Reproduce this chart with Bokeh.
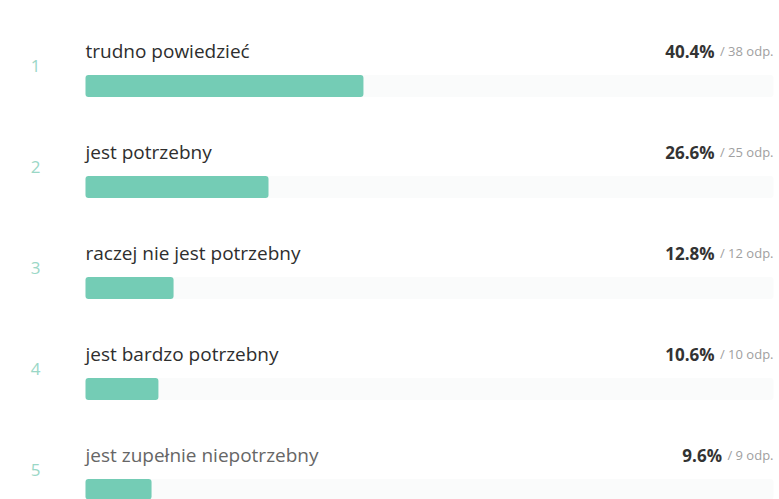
from bokeh.plotting import figure
from bokeh.models import ColumnDataSource, Range1d
from bokeh.core.properties import value
from bokeh.embed import file_html
from bokeh.resources import INLINE

# ---- data ----
ranks = ["1", "2", "3", "4", "5"]
labels = ["trudno powiedzieć", "jest potrzebny", "raczej nie jest potrzebny",
          "jest bardzo potrzebny", "jest zupełnie niepotrzebny"]
percents = [40.4, 26.6, 12.8, 10.6, 9.6]
counts = [38, 25, 12, 10, 9]

# ---- styling helpers ----
FONT = "Open Sans"
ODP_SIZE = 13
EM = {"0": 0.572, "1": 0.572, "2": 0.572, "3": 0.572, "4": 0.572, "5": 0.572,
      "6": 0.572, "7": 0.572, "8": 0.572, "9": 0.572, " ": 0.26, "/": 0.37,
      "o": 0.602, "d": 0.623, "p": 0.623, ".": 0.269}


def text_width(s, size):
    return sum(EM.get(c, 0.55) for c in s) * size


rows = list(range(len(labels)))
odp_texts = ["/ %d odp." % c for c in counts]
pct_texts = ["%.1f%%" % v for v in percents]
pct_offsets = [-(text_width(t, ODP_SIZE) + 5) for t in odp_texts]
label_colors = ["#2e2e2e", "#2e2e2e", "#2e2e2e", "#2e2e2e", "#666666"]

src = ColumnDataSource(dict(
    row=rows, rank=ranks, label=labels, pct=percents, full=[100] * len(rows),
    zero=[0] * len(rows), pct_text=pct_texts, odp=odp_texts,
    pct_off=pct_offsets, label_color=label_colors,
))

W, H = 779, 499
px_per_pct = 6.88
x0 = 85
pitch = 101
y0 = 85.5

p = figure(width=W, height=H, output_backend="svg", toolbar_location=None,
           title=None, min_border=0,
           x_range=Range1d(-x0 / px_per_pct, (W - x0) / px_per_pct),
           y_range=Range1d((H - y0) / pitch, -y0 / pitch))
p.xaxis.visible = False
p.yaxis.visible = False
p.grid.visible = False
p.outline_line_color = None
p.background_fill_color = "white"
p.border_fill_color = "white"

bar_h = 22 / pitch
TXT_OFF = -35

# track
p.hbar(y="row", left="zero", right="full", height=bar_h, source=src,
       fill_color="#fafbfb", line_color=None, border_radius=3)
# bars
p.hbar(y="row", left="zero", right="pct", height=bar_h, source=src,
       fill_color="#74ccb5", line_color=None, border_radius=3)

# rank numbers
p.text(x="zero", y="row", text="rank", source=src, x_offset=-50, y_offset=-20,
       text_align="center", text_baseline="alphabetic",
       text_font=value(FONT), text_font_size="17px", text_color="#9ad7c6")

# labels
p.text(x="zero", y="row", text="label", source=src, y_offset=TXT_OFF,
       text_align="left", text_baseline="alphabetic",
       text_font=value(FONT), text_font_size="19px", text_color="label_color")

# counts
p.text(x="full", y="row", text="odp", source=src, y_offset=TXT_OFF,
       text_align="right", text_baseline="alphabetic",
       text_font=value(FONT), text_font_size="%dpx" % ODP_SIZE,
       text_color="#a0a0a0")

# percents
p.text(x="full", y="row", text="pct_text", source=src, x_offset="pct_off",
       y_offset=TXT_OFF, text_align="right", text_baseline="alphabetic",
       text_font=value(FONT), text_font_size="17px", text_font_style="bold",
       text_color="#333333")

open("out.html", "w").write(file_html(p, INLINE))
